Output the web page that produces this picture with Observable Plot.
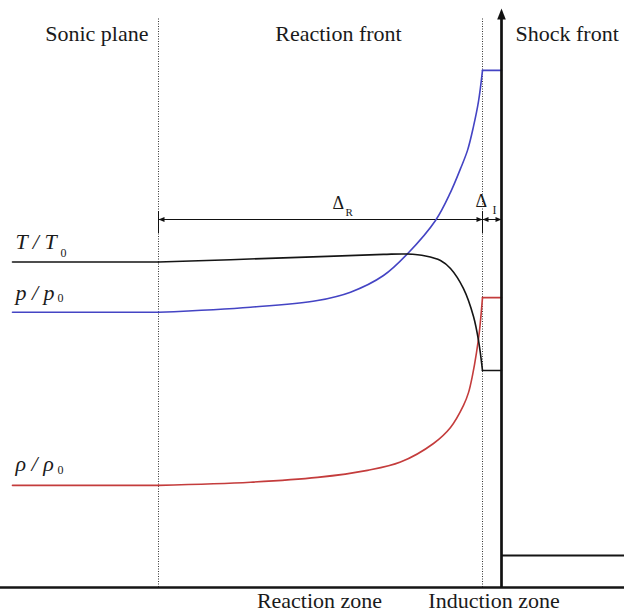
<!DOCTYPE html>
<html>
<head>
<meta charset="utf-8">
<script src="https://cdn.jsdelivr.net/npm/d3@7"></script>
<script src="https://cdn.jsdelivr.net/npm/@observablehq/plot@0.6"></script>
<style>
  html, body { margin: 0; padding: 0; background: #fff; }
  svg { display: block; }
</style>
</head>
<body>
<script>
// ZND detonation structure: T, p and ρ normalised by the ambient state.
// Distance runs along the wave axis; the leading shock sits at x = 0.
const shockX = 0;
const reactionFrontX = -3.8;
const sonicPlaneX = -68.6;
const upstreamEndX = -97.8;   // left end of the drawn profiles
const downstreamEndX = 24.6;  // right edge, unshocked gas ahead of the front
const ambientLevel = 1;

// Temperature ratio T/T0 through the reaction zone (sonic plane → reaction front)
const tempX = [-68.6, -43.6, -23.6, -18.8, -15.2, -12.2, -10.2, -7.6, -5.6, -4.6, -3.8];
const tempY = [10.17, 10.30, 10.41, 10.42, 10.36, 10.22, 9.97, 9.34, 8.47, 7.72, 6.78];

// Pressure ratio p/p0
const presX = [-68.6, -50.2, -36.8, -30.2, -23.6, -18.8, -13.2, -10.2, -8.2, -6.8, -5.6, -4.6, -3.8];
const presY = [8.60, 8.76, 8.97, 9.23, 9.75, 10.43, 11.47, 12.35, 13.09, 13.66, 14.41, 15.19, 16.16];

// Density ratio ρ/ρ0
const densX = [-68.6, -50.2, -36.8, -26.8, -20.2, -13.6, -10.2, -7.6, -6.6, -5.8, -5.0, -4.4, -3.8];
const densY = [3.19, 3.29, 3.44, 3.66, 3.92, 4.50, 5.00, 5.69, 6.09, 6.63, 7.34, 8.03, 9.06];

const regionLabels = ["Sonic plane", "Reaction front", "Shock front"];
const zoneLabels = ["Reaction zone", "Induction zone"];
const lengthSymbol = "Δ";
const lengthSubscripts = ["R", "I"];
const seriesNames = ["T / T", "p / p", "ρ / ρ"];
const seriesSub = "0";

const colors = {T: "#151515", p: "#4444c4", rho: "#c43c3c"};
const serif = "Liberation Serif";

// Each profile: constant CJ state behind the sonic plane, the reaction zone,
// then the constant von Neumann state across the induction zone.
function profile(xs, ys) {
  const n = xs.length - 1;
  return {
    upstream: [{x: upstreamEndX, y: ys[0]}, {x: xs[0], y: ys[0]}],
    zone: xs.map((x, i) => ({x, y: ys[i]})),
    induction: [{x: xs[n], y: ys[n]}, {x: shockX, y: ys[n]}]
  };
}

function profileMarks(p, stroke) {
  const o = {x: "x", y: "y", stroke, strokeWidth: 1.6};
  return [
    Plot.line(p.upstream, o),
    Plot.line(p.zone, {...o, curve: "catmull-rom"}),
    Plot.line(p.induction, o)
  ];
}

// Filled arrowhead with its tip at the origin, pointing up
const arrowHead = (len, half) => ({
  draw(context) {
    context.moveTo(0, 0);
    context.lineTo(half, len);
    context.lineTo(-half, len);
    context.closePath();
  }
});

const topY = 17.8;      // upper end of the guide lines
const labelY = 17.09;   // baseline of the region labels
const bottomY = -0.656; // baseline of the zone labels
const dimY = 11.5;      // dimension line for Δ_R and Δ_I
const midReaction = (sonicPlaneX + reactionFrontX) / 2;

const txt = (s, o) => Plot.text([s], {lineAnchor: "bottom", fontFamily: serif, fill: "#1a1a1a", ...o});

// series label baselines (main text and subscript) and subscript offsets
const seriesLayout = [
  {y: 10.59, subY: 10.34, subDx: 48},
  {y: 8.97, subY: 8.91, subDx: 45},
  {y: 3.656, subY: 3.56, subDx: 45}
];

const chart = Plot.plot({
  width: 624,
  height: 613,
  margin: 0,
  x: {domain: [-100.2, downstreamEndX], axis: null},
  y: {domain: [-0.8125, 18.34375], axis: null},
  style: {fontFamily: serif, background: "#fff"},
  marks: [
    // dotted guides at the sonic plane and reaction front
    Plot.ruleX([sonicPlaneX, reactionFrontX], {y1: 0, y2: topY, stroke: "#333", strokeWidth: 1, strokeDasharray: "1,1.5"}),

    // dimension lines
    Plot.ruleY([dimY], {x1: sonicPlaneX, x2: shockX, stroke: "#111", strokeWidth: 1}),
    Plot.ruleX([sonicPlaneX, reactionFrontX], {y1: dimY - 0.44, y2: dimY + 0.25, stroke: "#111", strokeWidth: 1}),
    Plot.dot([
      {x: sonicPlaneX, dir: -90}, {x: reactionFrontX, dir: 90},
      {x: reactionFrontX, dir: -90}, {x: shockX, dir: 90}
    ], {x: "x", y: dimY, rotate: "dir", symbol: arrowHead(6, 2.6), fill: "#111", stroke: "none"}),

    ...profileMarks(profile(presX, presY), colors.p),
    ...profileMarks(profile(densX, densY), colors.rho),
    ...profileMarks(profile(tempX, tempY), colors.T),

    // undisturbed state ahead of the shock
    Plot.ruleY([ambientLevel], {x1: shockX, x2: downstreamEndX, stroke: "#151515", strokeWidth: 1.8}),

    // distance axis and the leading shock with its arrow
    Plot.ruleY([0], {stroke: "#151515", strokeWidth: 2.7}),
    Plot.ruleX([shockX], {y1: 0, y2: 17.8, stroke: "#111", strokeWidth: 2.7}),
    Plot.dot([{x: shockX, y: 18.09}], {x: "x", y: "y", symbol: arrowHead(11, 4.3), fill: "#111", stroke: "none"}),

    // region labels along the top
    txt(regionLabels[0], {x: sonicPlaneX, y: labelY, dx: -10, textAnchor: "end", fontSize: 22}),
    txt(regionLabels[1], {x: midReaction, y: labelY, dx: 18, fontSize: 22}),
    txt(regionLabels[2], {x: shockX, y: labelY, dx: 14, textAnchor: "start", fontSize: 22}),

    // zone labels under the axis
    txt(zoneLabels[0], {x: midReaction, y: bottomY, dx: -1, fontSize: 22}),
    txt(zoneLabels[1], {x: (reactionFrontX + shockX) / 2, y: bottomY, dx: 2, fontSize: 22}),

    // Δ_R and Δ_I
    txt(lengthSymbol, {x: midReaction, y: dimY, dx: 12, dy: -11, textAnchor: "start", fontSize: 18}),
    txt(lengthSubscripts[0], {x: midReaction, y: dimY, dx: 25, dy: -4, textAnchor: "start", fontSize: 11}),
    txt(lengthSymbol, {x: reactionFrontX, y: dimY, dx: -7, dy: -13, textAnchor: "start", fontSize: 18}),
    txt(lengthSubscripts[1], {x: reactionFrontX, y: dimY, dx: 10, dy: -6, textAnchor: "start", fontSize: 12}),

    // series labels with their subscripts
    ...seriesNames.flatMap((name, i) => [
      txt(name, {x: upstreamEndX, y: seriesLayout[i].y, dx: 3, textAnchor: "start", fontSize: 22, fontStyle: "italic"}),
      txt(seriesSub, {x: upstreamEndX, y: seriesLayout[i].subY, dx: seriesLayout[i].subDx, textAnchor: "start", fontSize: 12})
    ])
  ]
});

document.body.appendChild(chart);
</script>
</body>
</html>
